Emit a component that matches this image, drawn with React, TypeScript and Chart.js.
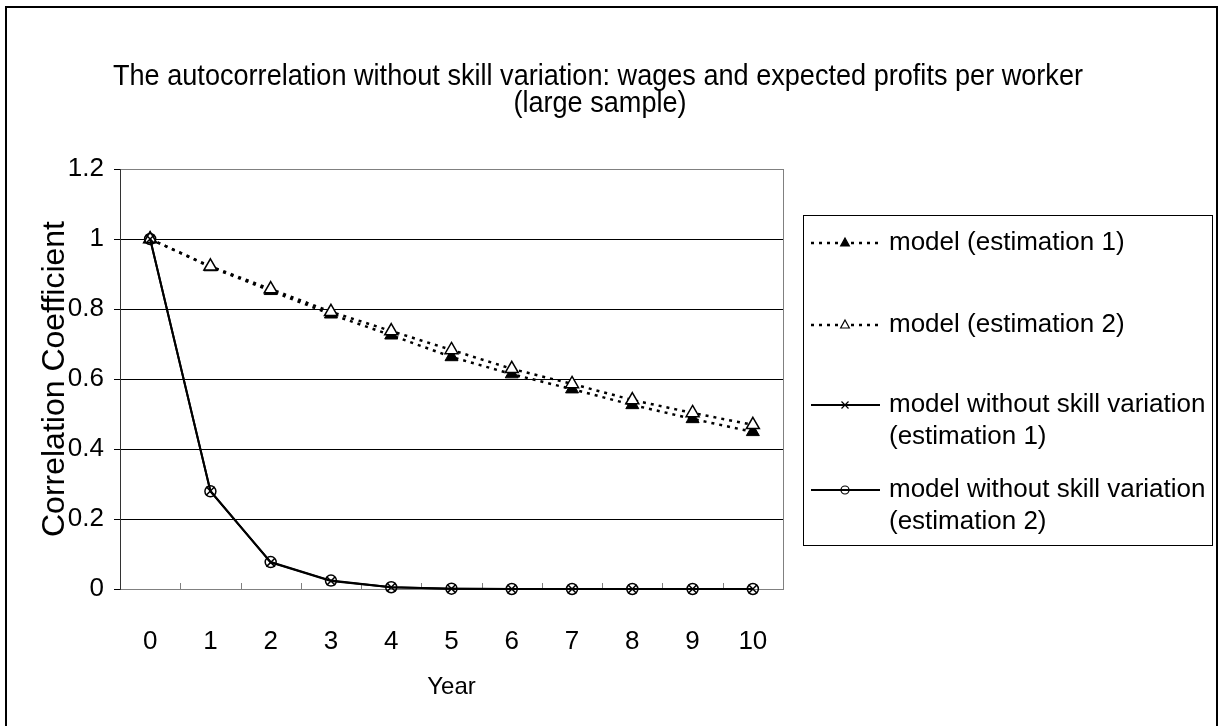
import React, { useEffect, useRef } from 'react';
import { Chart, registerables } from 'chart.js';

Chart.register(...registerables);

const years = ['0', '1', '2', '3', '4', '5', '6', '7', '8', '9', '10'];
const modelEst1 = [1, 0.92, 0.852, 0.785, 0.725, 0.663, 0.614, 0.571, 0.526, 0.486, 0.449];
const modelEst2 = [1, 0.922, 0.857, 0.792, 0.737, 0.683, 0.629, 0.586, 0.54, 0.503, 0.469];
const noSkillEst1 = [1, 0.28, 0.076, 0.023, 0.005, 0.001, 0, 0, 0, 0, 0];
const noSkillEst2 = [1, 0.279, 0.077, 0.024, 0.005, 0.001, 0, 0, 0, 0, 0];

const seriesLabels = [
  'model (estimation 1)',
  'model (estimation 2)',
  'model without skill variation (estimation 1)',
  'model without skill variation (estimation 2)',
];
const legendLines = [
  ['model (estimation 1)'],
  ['model (estimation 2)'],
  ['model without skill variation', '(estimation 1)'],
  ['model without skill variation', '(estimation 2)'],
];
const titleLines = [
  'The autocorrelation without skill variation: wages and expected profits per worker',
  '(large sample)',
];
const yAxisTitle = 'Correlation Coefficient';
const xAxisTitle = 'Year';

const SANS = "'Liberation Sans', Arial, sans-serif";

function drawMarker(ctx: CanvasRenderingContext2D, style: string, x: number, y: number, r: number, fill: string) {
  ctx.save();
  ctx.strokeStyle = '#000';
  ctx.lineWidth = 1.2;
  ctx.setLineDash([]);
  ctx.beginPath();
  if (style === 'triangle') {
    ctx.moveTo(x, y - r);
    ctx.lineTo(x + r * 0.87, y + r * 0.6);
    ctx.lineTo(x - r * 0.87, y + r * 0.6);
    ctx.closePath();
    ctx.fillStyle = fill;
    ctx.fill();
    ctx.stroke();
  } else if (style === 'crossRot') {
    ctx.moveTo(x - r * 0.7, y - r * 0.7);
    ctx.lineTo(x + r * 0.7, y + r * 0.7);
    ctx.moveTo(x + r * 0.7, y - r * 0.7);
    ctx.lineTo(x - r * 0.7, y + r * 0.7);
    ctx.stroke();
  } else {
    ctx.arc(x, y, r * 0.8, 0, Math.PI * 2);
    ctx.fillStyle = fill;
    ctx.fill();
    ctx.stroke();
  }
  ctx.restore();
}

const decorPlugin = {
  id: 'decor',
  beforeDraw(chart: any) {
    const { ctx, width, height } = chart;
    ctx.save();
    ctx.fillStyle = '#fff';
    ctx.fillRect(0, 0, width, height);
    ctx.strokeStyle = '#000';
    ctx.lineWidth = 2;
    ctx.strokeRect(6, 7, 1211, 760);
    ctx.restore();
  },
  beforeDatasetsDraw(chart: any) {
    const { ctx, chartArea } = chart;
    const xs = chart.scales.x;
    ctx.save();
    ctx.strokeStyle = '#808080';
    ctx.lineWidth = 1;
    ctx.beginPath();
    ctx.moveTo(chartArea.right + 0.5, chartArea.top);
    ctx.lineTo(chartArea.right + 0.5, chartArea.bottom);
    ctx.stroke();
    for (let i = 1; i < years.length; i++) {
      const px = Math.round((xs.getPixelForValue(i - 1) + xs.getPixelForValue(i)) / 2) + 0.5;
      ctx.beginPath();
      ctx.moveTo(px, chartArea.bottom);
      ctx.lineTo(px, chartArea.bottom - 6);
      ctx.stroke();
    }
    ctx.restore();
  },
  afterDraw(chart: any) {
    const { ctx } = chart;
    ctx.save();
    ctx.fillStyle = '#000';
    ctx.textAlign = 'center';
    ctx.textBaseline = 'middle';
    ctx.font = `29px ${SANS}`;
    const natural = ctx.measureText(titleLines[0]).width;
    const sx = 970 / natural;
    const centers: [number, number][] = [[598, 77], [600, 104]];
    titleLines.forEach((t, i) => {
      ctx.save();
      ctx.translate(centers[i][0], centers[i][1]);
      ctx.scale(sx, 1);
      ctx.fillText(t, 0, 0);
      ctx.restore();
    });

    const boxL = 803, boxT = 215, boxR = 1212, boxB = 545;
    ctx.strokeStyle = '#000';
    ctx.lineWidth = 1;
    ctx.strokeRect(boxL + 0.5, boxT + 0.5, boxR - boxL, boxB - boxT);
    const rowY = [243, 325, 405, 490];
    const lineGap = 32;
    chart.data.datasets.forEach((ds: any, i: number) => {
      const y = rowY[i];
      ctx.save();
      ctx.strokeStyle = '#000';
      ctx.lineWidth = ds.borderWidth;
      ctx.setLineDash(ds.borderDash || []);
      ctx.beginPath();
      ctx.moveTo(811, y);
      ctx.lineTo(880, y);
      ctx.stroke();
      ctx.restore();
      drawMarker(ctx, ds.pointStyle, 845, y, 5, ds.pointBackgroundColor);
      ctx.fillStyle = '#000';
      ctx.textAlign = 'left';
      ctx.textBaseline = 'middle';
      ctx.font = `26px ${SANS}`;
      legendLines[i].forEach((t, j) => ctx.fillText(t, 889, y + j * lineGap));
    });
    ctx.restore();
  },
};

export default function App() {
  const ref = useRef<HTMLCanvasElement | null>(null);
  useEffect(() => {
    if (!ref.current) return;
    const chart = new Chart(ref.current, {
      type: 'line',
      data: {
        labels: years,
        datasets: [
          {
            label: seriesLabels[0],
            data: modelEst1,
            order: 2,
            borderColor: '#000',
            borderWidth: 2.5,
            borderDash: [3, 5],
            pointStyle: 'triangle',
            pointRadius: 7.5,
            pointBackgroundColor: '#000',
            pointBorderColor: '#000',
            pointBorderWidth: 1,
            tension: 0,
            clip: false,
          },
          {
            label: seriesLabels[1],
            data: modelEst2,
            order: 1,
            borderColor: '#000',
            borderWidth: 2.5,
            borderDash: [3, 5],
            pointStyle: 'triangle',
            pointRadius: 7.5,
            pointBackgroundColor: '#fff',
            pointBorderColor: '#000',
            pointBorderWidth: 1.5,
            tension: 0,
            clip: false,
          },
          {
            label: seriesLabels[2],
            data: noSkillEst1,
            order: 0,
            borderColor: '#000',
            borderWidth: 2,
            pointStyle: 'crossRot',
            pointRadius: 6,
            pointBackgroundColor: 'rgba(0,0,0,0)',
            pointBorderColor: '#000',
            pointBorderWidth: 1.5,
            tension: 0,
            clip: false,
          },
          {
            label: seriesLabels[3],
            data: noSkillEst2,
            order: 0,
            borderColor: '#000',
            borderWidth: 2,
            pointStyle: 'circle',
            pointRadius: 5.5,
            pointBackgroundColor: 'rgba(0,0,0,0)',
            pointBorderColor: '#000',
            pointBorderWidth: 1.5,
            tension: 0,
            clip: false,
          },
        ],
      },
      options: {
        responsive: false,
        animation: false,
        devicePixelRatio: 1,
        layout: { padding: { left: 0, top: 169, right: 438, bottom: 0 } },
        plugins: {
          legend: { display: false },
          title: { display: false },
          tooltip: { enabled: false },
        },
        scales: {
          x: {
            type: 'category',
            offset: true,
            grid: { display: false, drawTicks: false },
            border: { display: true, color: '#808080', width: 1 },
            ticks: {
              color: '#000',
              padding: 37,
              font: { family: SANS, size: 26 },
              maxRotation: 0,
              autoSkip: false,
            },
            title: {
              display: true,
              text: xAxisTitle,
              color: '#000',
              font: { family: SANS, size: 24 },
              padding: { top: 0, bottom: 24 },
            },
            afterFit(scale: any) {
              scale.height = 137;
            },
          },
          y: {
            min: 0,
            max: 1.2,
            ticks: {
              stepSize: 0.2,
              color: '#000',
              padding: 10,
              font: { family: SANS, size: 26 },
              callback: (v: any) => String(Number(Number(v).toFixed(1))),
            },
            grid: {
              color: (c: any) => (c.tick && Math.abs(c.tick.value - 1.2) < 1e-6 ? '#808080' : '#000'),
              lineWidth: 1,
              drawTicks: true,
              tickLength: 6,
              tickColor: '#000',
            },
            border: { display: true, color: '#333', width: 1 },
            title: {
              display: true,
              text: yAxisTitle,
              color: '#000',
              font: { family: SANS, size: 32 },
              padding: { top: 36, bottom: 0 },
            },
            afterFit(scale: any) {
              scale.width = 120;
            },
          },
        },
      },
      plugins: [decorPlugin],
    } as any);
    return () => chart.destroy();
  }, []);
  return (
    <div style={{ position: 'absolute', left: 0, top: 0, width: 1221, height: 726, overflow: 'hidden' }}>
      <canvas ref={ref} width={1221} height={726} style={{ display: 'block' }} />
    </div>
  );
}
